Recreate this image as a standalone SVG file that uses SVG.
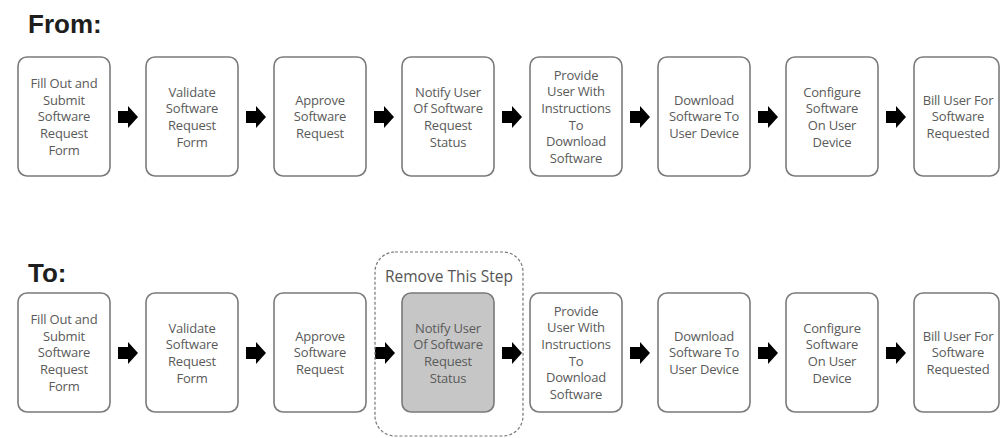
<svg xmlns="http://www.w3.org/2000/svg" xmlns:xlink="http://www.w3.org/1999/xlink" width="1001" height="438" viewBox="0 0 1001 438">
<style>
.title{font-family:"Liberation Sans",Arial,sans-serif;font-weight:bold;font-size:26px;fill:#1e1e1e}
.box{fill:#fff;stroke:#7a7a7a;stroke-width:1.6}
.grey{fill:#c6c6c6;stroke:#7a7a7a;stroke-width:1.6}
.lbl{font-family:"Open Sans","Liberation Sans",sans-serif;font-size:13px;fill:#5a5a5a;text-anchor:middle;letter-spacing:-0.2px}
.note{font-family:"Open Sans","Liberation Sans",sans-serif;font-size:15.5px;fill:#555;text-anchor:middle}
.dash{fill:none;stroke:#777;stroke-width:1.2;stroke-dasharray:3 2}
</style>
<defs>
<path id="arr" d="M0,-6 H10 V-11 L20,0 L10,11 V6 H0 Z" fill="#000"/>
</defs>
<rect width="1001" height="438" fill="#fff"/>
<text class="title" x="28" y="33">From:</text>
<text class="title" x="28" y="282">To:</text>

<g id="connectors">
<use xlink:href="#arr" x="118" y="117"/>
<use xlink:href="#arr" x="246" y="117"/>
<use xlink:href="#arr" x="374" y="117"/>
<use xlink:href="#arr" x="502" y="117"/>
<use xlink:href="#arr" x="630" y="117"/>
<use xlink:href="#arr" x="758" y="117"/>
<use xlink:href="#arr" x="886" y="117"/>
<use xlink:href="#arr" x="118" y="353"/>
<use xlink:href="#arr" x="246" y="353"/>
<use xlink:href="#arr" x="375" y="353"/>
<use xlink:href="#arr" x="502" y="353"/>
<use xlink:href="#arr" x="630" y="353"/>
<use xlink:href="#arr" x="758" y="353"/>
<use xlink:href="#arr" x="886" y="353"/>
</g>

<!-- From row -->
<g id="f1"><rect class="box" x="18" y="57" width="92" height="119" rx="9"/>
<text class="lbl"><tspan x="64" y="87.5">Fill Out and</tspan><tspan x="64" y="104.5">Submit</tspan><tspan x="64" y="121">Software</tspan><tspan x="64" y="137.5">Request</tspan><tspan x="64" y="154.5">Form</tspan></text></g>
<g id="f2"><rect class="box" x="146" y="57" width="92" height="119" rx="9"/>
<text class="lbl"><tspan x="192" y="96.5">Validate</tspan><tspan x="192" y="113">Software</tspan><tspan x="192" y="129.5">Request</tspan><tspan x="192" y="146.5">Form</tspan></text></g>
<g id="f3"><rect class="box" x="274" y="57" width="92" height="119" rx="9"/>
<text class="lbl"><tspan x="320" y="104.5">Approve</tspan><tspan x="320" y="121">Software</tspan><tspan x="320" y="137.5">Request</tspan></text></g>
<g id="f4"><rect class="box" x="402" y="57" width="92" height="119" rx="9"/>
<text class="lbl"><tspan x="448" y="96.5">Notify User</tspan><tspan x="448" y="113">Of Software</tspan><tspan x="448" y="129.5">Request</tspan><tspan x="448" y="146.5">Status</tspan></text></g>
<g id="f5"><rect class="box" x="530" y="57" width="92" height="119" rx="9"/>
<text class="lbl"><tspan x="576" y="79.5">Provide</tspan><tspan x="576" y="96">User With</tspan><tspan x="576" y="112.5">Instructions</tspan><tspan x="576" y="129.5">To</tspan><tspan x="576" y="146">Download</tspan><tspan x="576" y="162.5">Software</tspan></text></g>
<g id="f6"><rect class="box" x="658" y="57" width="92" height="119" rx="9"/>
<text class="lbl"><tspan x="704" y="104.5">Download</tspan><tspan x="704" y="121">Software To</tspan><tspan x="704" y="137.5">User Device</tspan></text></g>
<g id="f7"><rect class="box" x="786" y="57" width="92" height="119" rx="9"/>
<text class="lbl"><tspan x="832" y="96.5">Configure</tspan><tspan x="832" y="113">Software</tspan><tspan x="832" y="129.5">On User</tspan><tspan x="832" y="146.5">Device</tspan></text></g>
<g id="f8"><rect class="box" x="914" y="57" width="85" height="119" rx="9"/>
<text class="lbl"><tspan x="958" y="104.5">Bill User For</tspan><tspan x="958" y="121">Software</tspan><tspan x="958" y="137.5">Requested</tspan></text></g>

<!-- To row -->
<g id="t1"><rect class="box" x="18" y="293" width="92" height="119" rx="9"/>
<text class="lbl"><tspan x="64" y="323.5">Fill Out and</tspan><tspan x="64" y="340.5">Submit</tspan><tspan x="64" y="357">Software</tspan><tspan x="64" y="373.5">Request</tspan><tspan x="64" y="390.5">Form</tspan></text></g>
<g id="t2"><rect class="box" x="146" y="293" width="92" height="119" rx="9"/>
<text class="lbl"><tspan x="192" y="332.5">Validate</tspan><tspan x="192" y="349">Software</tspan><tspan x="192" y="365.5">Request</tspan><tspan x="192" y="382.5">Form</tspan></text></g>
<g id="t3"><rect class="box" x="274" y="293" width="92" height="119" rx="9"/>
<text class="lbl"><tspan x="320" y="340.5">Approve</tspan><tspan x="320" y="357">Software</tspan><tspan x="320" y="373.5">Request</tspan></text></g>
<g id="remove"><rect class="dash" x="375" y="252" width="148" height="184" rx="20"/>
<text class="note" x="449" y="282">Remove This Step</text></g>
<g id="t4"><rect class="grey" x="402" y="293" width="92" height="119" rx="9"/>
<text class="lbl"><tspan x="448" y="332.5">Notify User</tspan><tspan x="448" y="349">Of Software</tspan><tspan x="448" y="365.5">Request</tspan><tspan x="448" y="382.5">Status</tspan></text></g>
<g id="t5"><rect class="box" x="530" y="293" width="92" height="119" rx="9"/>
<text class="lbl"><tspan x="576" y="315.5">Provide</tspan><tspan x="576" y="332">User With</tspan><tspan x="576" y="348.5">Instructions</tspan><tspan x="576" y="365.5">To</tspan><tspan x="576" y="382">Download</tspan><tspan x="576" y="398.5">Software</tspan></text></g>
<g id="t6"><rect class="box" x="658" y="293" width="92" height="119" rx="9"/>
<text class="lbl"><tspan x="704" y="340.5">Download</tspan><tspan x="704" y="357">Software To</tspan><tspan x="704" y="373.5">User Device</tspan></text></g>
<g id="t7"><rect class="box" x="786" y="293" width="92" height="119" rx="9"/>
<text class="lbl"><tspan x="832" y="332.5">Configure</tspan><tspan x="832" y="349">Software</tspan><tspan x="832" y="365.5">On User</tspan><tspan x="832" y="382.5">Device</tspan></text></g>
<g id="t8"><rect class="box" x="914" y="293" width="85" height="119" rx="9"/>
<text class="lbl"><tspan x="958" y="340.5">Bill User For</tspan><tspan x="958" y="357">Software</tspan><tspan x="958" y="373.5">Requested</tspan></text></g>
</svg>
